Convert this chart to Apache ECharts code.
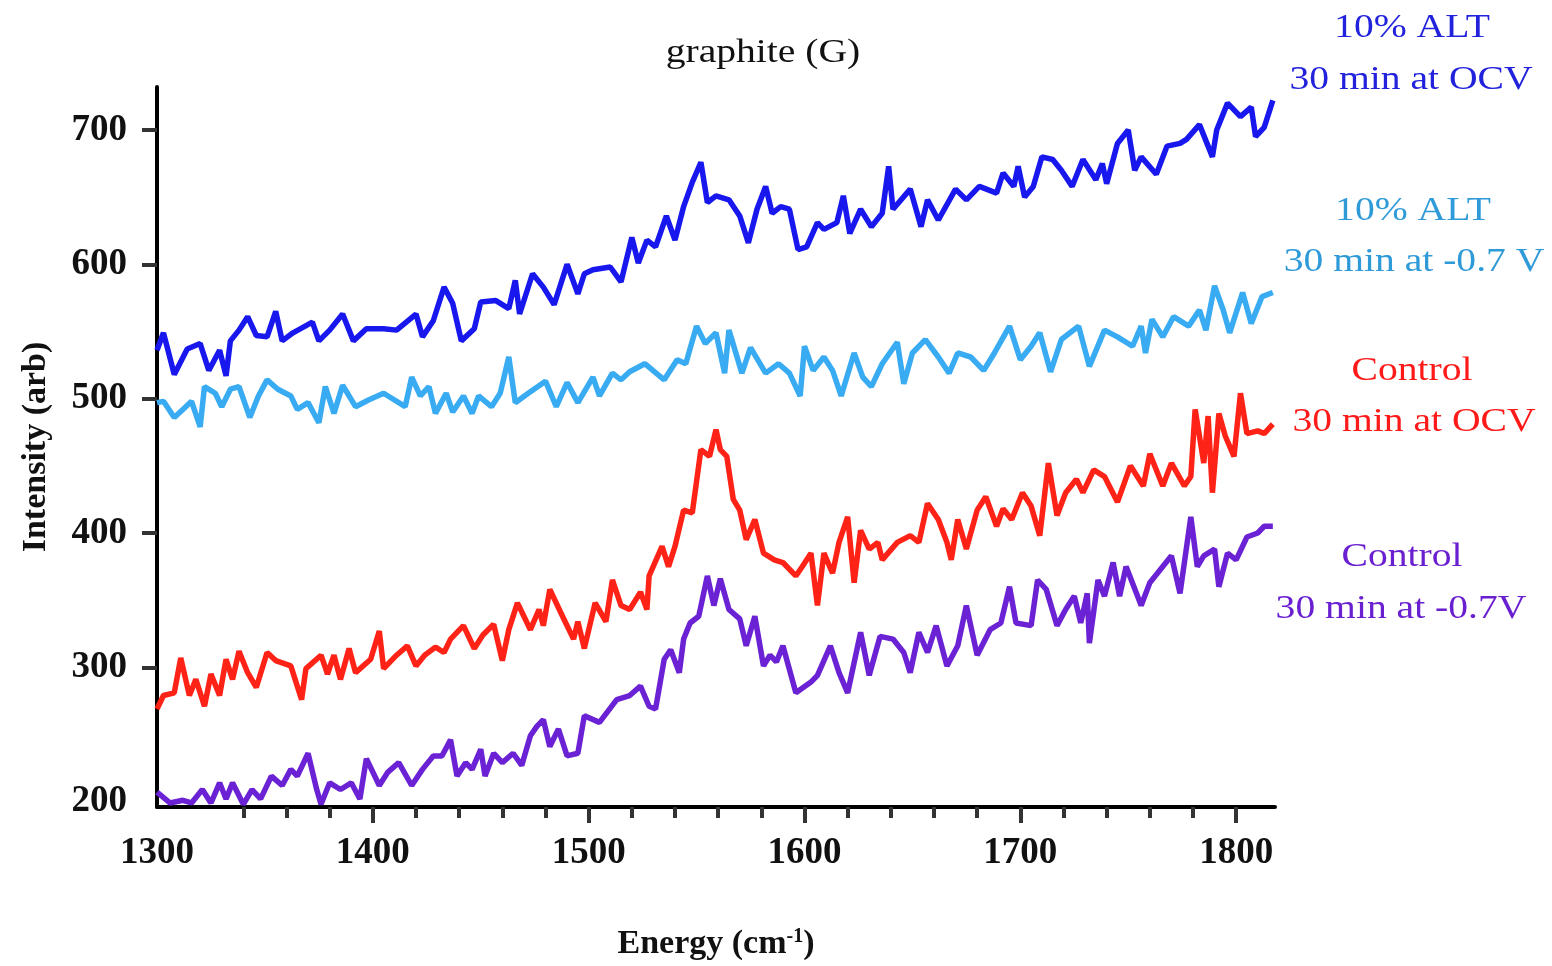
<!DOCTYPE html>
<html>
<head>
<meta charset="utf-8">
<script src="https://cdn.jsdelivr.net/npm/echarts@6/dist/echarts.min.js"></script>
<style>
  html, body { margin: 0; padding: 0; background: #fff; }
  #chart { width: 1552px; height: 966px; }
</style>
</head>
<body>
<div id="chart"></div>
<script>
// Raman spectra of graphite (G band)
// 10% ALT, 30 min at OCV
const altOcvX = [1300,1303,1308,1314,1320,1324,1329,1332,1334,1338,1342,1346,1351,1355,1358,1363,1372,1375,1380,1386,1391,1397,1405,1411,1420,1423,1428,1433,1437,1441,1447,1450,1457,1463,1466,1468,1474,1479,1484,1490,1495,1498,1502,1510,1515,1520,1523,1527,1531,1536,1540,1544,1548,1552,1555,1559,1565,1570,1574,1578,1582,1585,1589,1593,1597,1601,1606,1609,1615,1618,1621,1626,1631,1636,1639,1641,1649,1654,1657,1662,1670,1675,1681,1689,1692,1697,1699,1702,1706,1710,1715,1719,1724,1729,1735,1738,1740,1745,1750,1753,1756,1763,1768,1774,1777,1783,1789,1791,1796,1802,1807,1809,1813,1817];
const altOcvY = [536,549,518,537,541,521,536,517,543,551,561,547,546,565,543,549,557,543,551,563,543,552,552,551,563,546,558,583,571,543,552,572,573,567,588,563,593,583,570,600,578,593,596,598,587,620,601,618,613,636,618,643,661,676,646,651,648,636,616,641,658,638,643,641,611,613,631,626,631,651,623,641,628,638,673,641,656,628,648,633,656,648,658,653,668,658,673,650,658,680,678,670,658,678,663,675,660,690,700,670,680,667,688,690,693,704,680,700,720,710,717,695,702,722];

// 10% ALT, 30 min at -0.7 V
const altNegX = [1300,1303,1308,1312,1316,1320,1322,1327,1330,1334,1338,1343,1347,1351,1356,1362,1365,1370,1375,1378,1382,1386,1392,1398,1405,1415,1418,1422,1426,1429,1434,1437,1442,1446,1449,1455,1459,1463,1466,1472,1480,1485,1490,1495,1502,1505,1511,1515,1519,1526,1535,1541,1545,1550,1554,1559,1563,1565,1571,1575,1582,1588,1593,1598,1600,1604,1609,1613,1617,1623,1627,1631,1636,1643,1646,1650,1656,1662,1667,1671,1677,1683,1688,1695,1700,1705,1709,1714,1719,1727,1732,1739,1745,1752,1756,1758,1761,1766,1771,1778,1783,1786,1790,1794,1797,1803,1807,1812,1817];
const altNegY = [497,498,486,492,498,479,509,504,494,507,509,486,502,514,507,502,492,497,482,509,489,510,494,499,504,494,516,502,509,489,504,490,502,489,502,494,504,531,497,504,513,494,512,497,516,502,519,514,520,526,514,529,526,554,541,549,519,551,519,538,519,526,519,502,539,521,531,521,502,534,516,509,526,542,511,534,544,531,519,534,531,521,534,554,529,539,549,520,544,554,524,551,546,539,554,534,559,546,561,554,566,551,584,566,549,579,556,576,579];

// Control, 30 min at OCV
const ctrlOcvX = [1300,1303,1308,1311,1315,1318,1322,1325,1329,1332,1335,1338,1342,1346,1351,1355,1362,1367,1369,1376,1379,1382,1385,1389,1392,1399,1403,1405,1411,1416,1420,1424,1429,1433,1436,1442,1447,1451,1456,1460,1463,1467,1473,1477,1479,1482,1487,1493,1495,1498,1503,1508,1511,1515,1519,1524,1527,1528,1534,1537,1540,1544,1548,1552,1556,1559,1561,1564,1567,1570,1573,1577,1581,1586,1590,1596,1599,1603,1606,1609,1613,1616,1620,1623,1626,1630,1634,1636,1643,1649,1653,1657,1662,1666,1668,1671,1675,1680,1684,1689,1692,1696,1701,1705,1709,1713,1717,1721,1726,1729,1734,1739,1745,1751,1757,1760,1766,1770,1776,1779,1781,1785,1787,1789,1792,1795,1799,1802,1805,1810,1813,1817];
const ctrlOcvY = [269,279,281,307,279,291,271,295,279,306,291,312,296,285,311,305,301,276,299,309,295,309,291,314,296,306,327,299,309,316,301,309,315,311,321,331,314,324,332,305,328,348,328,343,331,358,341,321,334,314,348,334,365,346,343,356,343,368,390,375,390,417,415,462,457,477,462,457,425,417,395,410,385,380,378,368,375,385,346,385,370,393,412,363,402,388,393,380,393,398,393,422,410,393,380,410,388,417,427,405,418,410,430,420,398,452,413,430,440,430,447,442,423,450,435,459,435,452,435,442,492,452,487,430,489,472,457,504,474,476,474,481];

// Control, 30 min at -0.7 V
const ctrlNegX = [1300,1306,1312,1316,1321,1325,1329,1332,1335,1340,1344,1348,1353,1358,1362,1365,1370,1374,1376,1380,1385,1390,1394,1397,1403,1407,1412,1418,1423,1428,1432,1436,1439,1443,1446,1450,1452,1456,1460,1465,1469,1473,1476,1479,1482,1486,1490,1495,1498,1505,1513,1519,1524,1528,1531,1535,1538,1542,1544,1547,1551,1555,1558,1561,1565,1570,1573,1577,1581,1584,1587,1590,1596,1603,1606,1612,1616,1620,1626,1630,1635,1641,1646,1649,1653,1657,1661,1666,1671,1675,1680,1686,1691,1695,1698,1705,1708,1712,1717,1721,1725,1728,1731,1732,1736,1739,1743,1746,1749,1756,1760,1765,1770,1774,1779,1782,1785,1790,1792,1796,1800,1805,1810,1813,1817];
const ctrlNegY = [207,199,201,199,209,199,214,202,214,198,209,202,219,212,224,219,236,209,198,214,209,214,202,232,212,222,229,212,224,234,234,246,219,229,224,239,219,236,229,236,227,249,256,261,241,254,234,236,264,259,276,279,286,271,269,306,313,296,321,333,338,368,346,366,343,336,316,338,301,309,304,316,281,289,294,316,296,281,326,294,323,321,311,296,326,311,331,301,316,346,309,328,333,360,333,331,365,358,331,343,353,333,355,318,365,353,378,353,375,346,363,373,383,355,412,375,383,388,360,385,380,397,400,405,405];

// axis ticks
const xLabels = [1300, 1400, 1500, 1600, 1700, 1800];
const xMajorTicks = [1400, 1500, 1600, 1700, 1800];
const xMinorTicks = [1340,1360,1380,1420,1440,1460,1480,1520,1540,1560,1580,1620,1640,1660,1680,1720,1740,1760,1780];
const yLabels = [200, 300, 400, 500, 600, 700];
const yTicks = [300, 400, 500, 600, 700];

const serif = '"Liberation Serif", "Times New Roman", serif';

function pairs(xs, ys) {
  return xs.map((x, i) => [x, ys[i]]);
}

function spectrum(name, xs, ys, color) {
  return {
    name: name,
    type: 'line',
    data: pairs(xs, ys),
    showSymbol: false,
    lineStyle: { color: color, width: 5.5 },
    itemStyle: { color: color },
    z: 3
  };
}

function note(text, x, y, color) {
  return {
    type: 'text',
    x: x,
    y: y,
    scaleX: 1.2,
    style: {
      text: text,
      fill: color,
      font: '33px ' + serif,
      align: 'center',
      verticalAlign: 'middle'
    }
  };
}

const plain = v => String(v);

const chart = echarts.init(document.getElementById('chart'));

chart.setOption({
  animation: false,
  backgroundColor: '#fff',
  grid: { left: 157, right: 277, top: 87, bottom: 158 },
  xAxis: [{
    type: 'value',
    position: 'bottom',
    min: 1300,
    max: 1818,
    name: 'Energy (cm{sup|-1})',
    nameLocation: 'middle',
    nameGap: 120,
    nameTextStyle: {
      fontFamily: serif, fontWeight: 'bold', fontSize: 34, color: '#111',
      verticalAlign: 'top',
      rich: { sup: { fontFamily: serif, fontWeight: 'bold', fontSize: 20, color: '#111', verticalAlign: 'top' } }
    },
    splitLine: { show: false },
    axisLine: { onZero: false, lineStyle: { color: '#000', width: 4 } },
    axisTick: { show: true, inside: false, length: 16, customValues: xMajorTicks, lineStyle: { color: '#333', width: 4 } },
    axisLabel: {
      customValues: xLabels, margin: 28, formatter: plain,
      fontFamily: serif, fontWeight: 'bold', fontSize: 37, color: '#111'
    }
  }, {
    type: 'value',
    position: 'bottom',
    min: 1300,
    max: 1818,
    splitLine: { show: false },
    axisLine: { show: false, onZero: false },
    axisTick: { show: true, length: 11, customValues: xMinorTicks, lineStyle: { color: '#333', width: 4 } },
    axisLabel: { show: false }
  }],
  yAxis: {
    type: 'value',
    min: 196,
    max: 732,
    name: 'Intensity (arb)',
    nameLocation: 'middle',
    nameGap: 104,
    nameRotate: 90,
    nameTextStyle: { fontFamily: serif, fontWeight: 'bold', fontSize: 34, color: '#111' },
    splitLine: { show: false },
    axisLine: { onZero: false, lineStyle: { color: '#000', width: 4 } },
    axisTick: { show: true, length: 15, customValues: yTicks, lineStyle: { color: '#333', width: 4 } },
    axisLabel: {
      customValues: yLabels, margin: 30, formatter: plain,
      fontFamily: serif, fontWeight: 'bold', fontSize: 37, color: '#111'
    }
  },
  series: [
    spectrum('10% ALT 30 min at OCV', altOcvX, altOcvY, '#1818ee'),
    spectrum('10% ALT 30 min at -0.7 V', altNegX, altNegY, '#38abf2'),
    spectrum('Control 30 min at OCV', ctrlOcvX, ctrlOcvY, '#ff2216'),
    spectrum('Control 30 min at -0.7V', ctrlNegX, ctrlNegY, '#6b22d4')
  ],
  graphic: [
    note('graphite (G)', 763, 53, '#111'),
    note('10% ALT', 1412, 28, '#2222dd'),
    note('30 min at OCV', 1411, 80, '#2222dd'),
    note('10% ALT', 1413, 211, '#2e9ad8'),
    note('30 min at -0.7 V', 1414, 262, '#2e9ad8'),
    note('Control', 1412, 371, '#ff1a1a'),
    note('30 min at OCV', 1414, 422, '#ff1a1a'),
    note('Control', 1402, 557, '#6a20d0'),
    note('30 min at -0.7V', 1401, 609, '#6a20d0')
  ]
});
</script>
</body>
</html>
